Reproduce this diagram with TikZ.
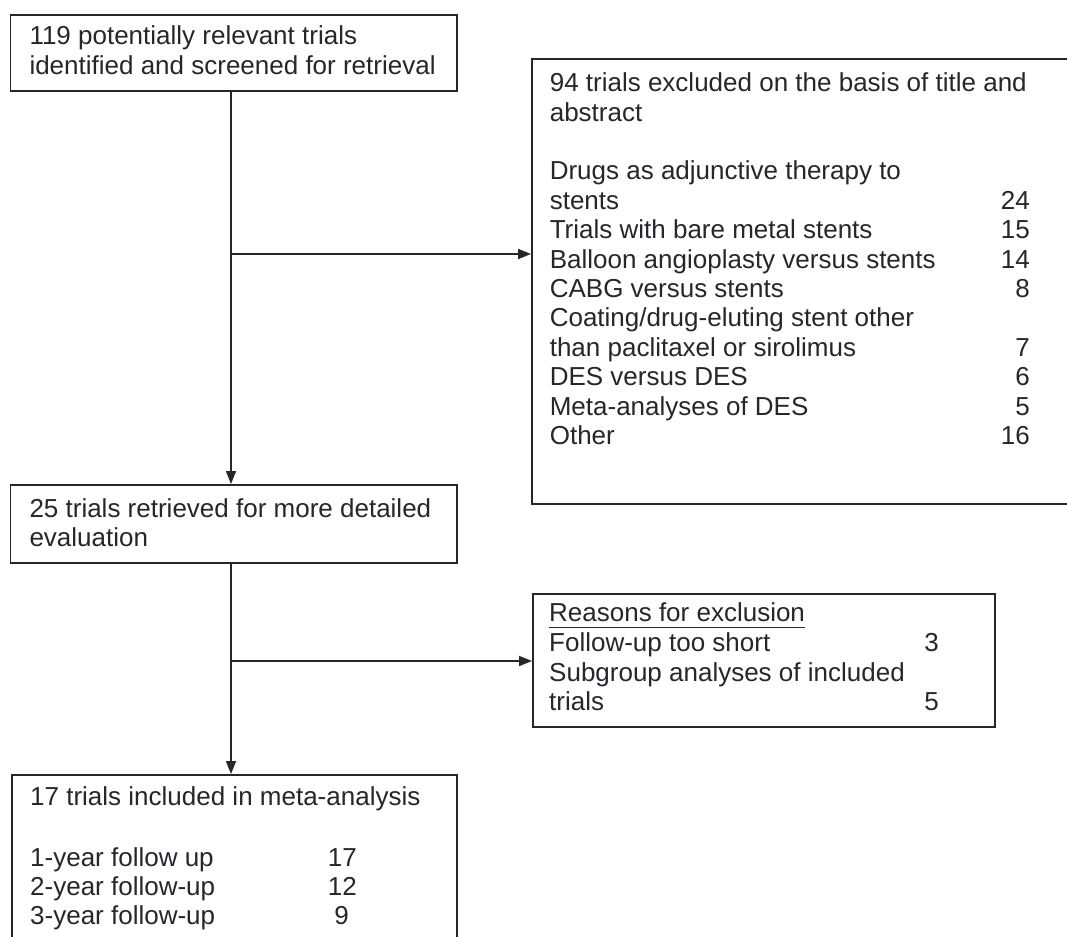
\documentclass[tikz,border=0pt]{standalone}
\usepackage{fontspec}
\setmainfont{Liberation Sans}
\usetikzlibrary{arrows.meta}
\definecolor{ink}{RGB}{38,38,44}
\begin{document}
\begin{tikzpicture}[x=1pt,y=-1pt,
 box/.style={draw=ink, line width=1.7pt, inner sep=0pt, anchor=north west},
 txt/.style={anchor=base west, inner sep=0pt, text=ink, font=\fontsize{26}{29.4}\selectfont},
 num/.style={anchor=base east, inner sep=0pt, text=ink, font=\fontsize{26}{29.4}\selectfont},
 arr/.style={draw=ink, line width=1.8pt, -{Triangle[length=13pt,width=10pt]}}]
\useasboundingbox (0,0) rectangle (1067,936);
\fill[white] (0,0) rectangle (1067,936);
\clip (0,0) rectangle (1067,936);

% boxes
\node[box, minimum width=446.4pt, minimum height=76pt] (box1) at (9.6,14) {};
\node[box, minimum width=549pt, minimum height=445pt] (box2) at (531,58) {};
\node[box, minimum width=446.4pt, minimum height=78pt] (box3) at (9.6,484) {};
\node[box, minimum width=462pt, minimum height=133pt] (box4) at (532,593) {};
\node[box, minimum width=445pt, minimum height=180pt] (box5) at (11,774) {};

% box 1 text
\node[txt] (a1) at (29.3,45) {119 potentially relevant trials};
\node[txt] (a2) at (29.3,74.5) {identified and screened for retrieval};

% box 2 text
\node[txt] (b1) at (549.6,91.7) {94 trials excluded on the basis of title and};
\node[txt] (b2) at (549.6,121.1) {abstract};
\node[txt] (b3) at (549.6,179.9) {Drugs as adjunctive therapy to};
\node[txt] (b4) at (549.6,209.3) {stents};
\node[txt] (b5) at (549.6,238.7) {Trials with bare metal stents};
\node[txt] (b6) at (549.6,268.1) {Balloon angioplasty versus stents};
\node[txt] (b7) at (549.6,297.5) {CABG versus stents};
\node[txt] (b8) at (549.6,326.9) {Coating/drug-eluting stent other};
\node[txt] (b9) at (549.6,356.3) {than paclitaxel or sirolimus};
\node[txt] (b10) at (549.6,385.7) {DES versus DES};
\node[txt] (b11) at (549.6,415.1) {Meta-analyses of DES};
\node[txt] (b12) at (549.6,444.5) {Other};
\node[num] (n4) at (1030,209.3) {24};
\node[num] (n5) at (1030,238.7) {15};
\node[num] (n6) at (1030,268.1) {14};
\node[num] (n7) at (1030,297.5) {8};
\node[num] (n9) at (1030,356.3) {7};
\node[num] (n10) at (1030,385.7) {6};
\node[num] (n11) at (1030,415.1) {5};
\node[num] (n12) at (1030,444.5) {16};

% box 3 text
\node[txt] (c1) at (29.3,517) {25 trials retrieved for more detailed};
\node[txt] (c2) at (29.3,546.4) {evaluation};

% box 4 text
\node[txt] (d1) at (549,621) {Reasons for exclusion};
\draw[ink, line width=1.3pt] ([yshift=-6.5pt]d1.base west) -- ([yshift=-6.5pt]d1.base east);
\node[txt] (d2) at (549,651.5) {Follow-up too short};
\node[txt] (d3) at (549,681) {Subgroup analyses of included};
\node[txt] (d4) at (549,710) {trials};
\node[num] (m2) at (939,651.5) {3};
\node[num] (m4) at (939,710) {5};

% box 5 text
\node[txt] (e1) at (30,805.5) {17 trials included in meta-analysis};
\node[txt] (e2) at (30,866) {1-year follow up};
\node[txt] (e3) at (30,895) {2-year follow-up};
\node[txt] (e4) at (30,924) {3-year follow-up};
\node[num] (f2) at (357,866) {17};
\node[num] (f3) at (357,895) {12};
\node[num] (f4) at (349,924) {9};

% connectors
\coordinate (j1) at (231,254);
\coordinate (j2) at (231,661);
\draw[arr] (box1.south -| j1) -- (box3.north -| j1);
\draw[arr] (j1) -- (j1 -| box2.west);
\draw[arr] (box3.south -| j2) -- (box5.north -| j2);
\draw[arr] (j2) -- (j2 -| box4.west);
\end{tikzpicture}
\end{document}
